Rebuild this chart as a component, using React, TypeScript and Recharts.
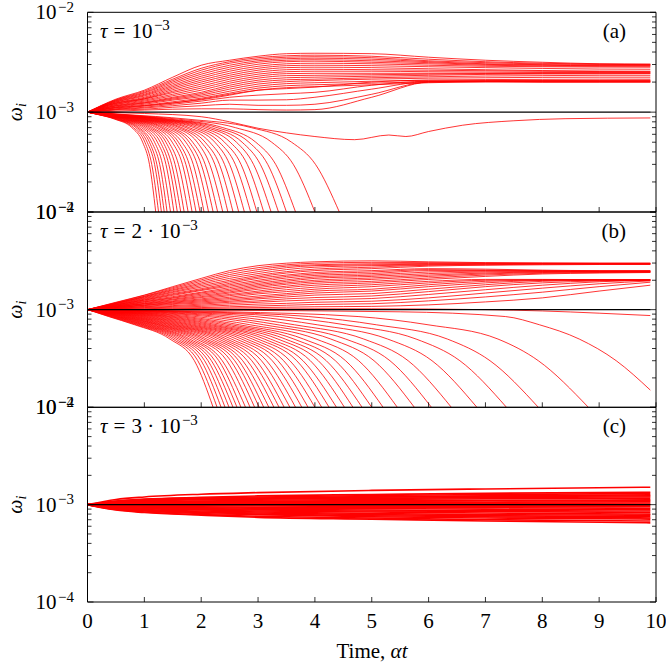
import { LineChart, Line, XAxis, YAxis } from 'recharts';

const W = 666;
const H = 664;
const LEFT = 87.5;
const RIGHT = 656;
const SERIF = '"Liberation Serif", "DejaVu Serif", serif';
const RED = '#ff0000';

// room reserved for each axis box
const LEFT_AXIS_W = 60;
const RIGHT_AXIS_W = 10;
const BOTTOM_AXIS_H = 30;
const TOP_AXIS_H = 10;

const xTicks = [0, 1, 2, 3, 4, 5, 6, 7, 8, 9, 10];
const yTicks = [
  1e-4, 2e-4, 3e-4, 4e-4, 5e-4, 6e-4, 7e-4, 8e-4, 9e-4,
  1e-3, 2e-3, 3e-3, 4e-3, 5e-3, 6e-3, 7e-3, 8e-3, 9e-3, 1e-2,
];
const yDecades = [1e-4, 1e-3, 1e-2];
const yDecadeExps = ['−4', '−3', '−2'];

// ω_i below is in units of 1e-3; every mode starts at ω = 1e-3 when t = 0
const UNIT = 1e-3;
const START = 1;

// decaying modes: the times at which each one passes these levels
const fallLevels = [0.95, 0.85, 0.7, 0.5, 0.3, 0.1];

// reference level ω = 1e-3
const meanTimes = [9.9];
const meanLevels = [1];

// ---- (a) tau = 1e-3 ----
const riseTimesA = [0.5, 1, 1.5, 2, 2.5, 3, 3.5, 4, 5, 6, 7, 8, 9, 9.9];
const riseA = [
  [1.35, 1.66, 2.24, 2.95, 3.31, 3.63, 3.85, 3.89, 3.85, 3.55, 3.31, 3.16, 3.05, 3.02],
  [1.33, 1.62, 2.14, 2.75, 3.2, 3.51, 3.67, 3.72, 3.63, 3.39, 3.2, 3.09, 3.03, 3.02],
  [1.32, 1.58, 2.07, 2.63, 3.09, 3.39, 3.55, 3.59, 3.51, 3.27, 3.13, 3.04, 3.01, 2.99],
  [1.3, 1.55, 2.0, 2.51, 2.95, 3.27, 3.43, 3.47, 3.39, 3.2, 3.05, 2.99, 2.95, 2.95],
  [1.29, 1.51, 1.93, 2.4, 2.82, 3.16, 3.31, 3.35, 3.27, 3.13, 3.01, 2.95, 2.92, 2.92],
  [1.27, 1.48, 1.86, 2.29, 2.69, 3.02, 3.2, 3.24, 3.16, 3.05, 2.95, 2.9, 2.88, 2.88],
  [1.26, 1.45, 1.8, 2.19, 2.57, 2.88, 3.05, 3.09, 3.05, 2.95, 2.88, 2.85, 2.83, 2.82],
  [1.24, 1.41, 1.74, 2.09, 2.45, 2.75, 2.92, 2.95, 2.92, 2.85, 2.79, 2.74, 2.7, 2.69],
  [1.23, 1.38, 1.68, 2.0, 2.34, 2.63, 2.79, 2.82, 2.79, 2.72, 2.66, 2.61, 2.58, 2.57],
  [1.22, 1.36, 1.62, 1.91, 2.24, 2.51, 2.66, 2.69, 2.66, 2.63, 2.6, 2.57, 2.55, 2.54],
  [1.2, 1.35, 1.57, 1.82, 2.14, 2.4, 2.54, 2.57, 2.57, 2.54, 2.52, 2.51, 2.51, 2.51],
  [1.19, 1.32, 1.51, 1.74, 2.04, 2.29, 2.43, 2.45, 2.45, 2.45, 2.45, 2.48, 2.48, 2.48],
  [1.17, 1.29, 1.46, 1.66, 1.95, 2.19, 2.32, 2.34, 2.37, 2.4, 2.43, 2.44, 2.45, 2.45],
  [1.16, 1.26, 1.41, 1.58, 1.86, 2.09, 2.21, 2.24, 2.29, 2.34, 2.39, 2.41, 2.42, 2.43],
  [1.15, 1.24, 1.38, 1.53, 1.78, 2.0, 2.11, 2.14, 2.21, 2.26, 2.3, 2.32, 2.34, 2.34],
  [1.13, 1.23, 1.35, 1.48, 1.7, 1.91, 2.02, 2.07, 2.14, 2.19, 2.21, 2.23, 2.24, 2.24],
  [1.12, 1.2, 1.32, 1.43, 1.62, 1.82, 1.93, 1.97, 2.04, 2.09, 2.12, 2.13, 2.14, 2.14],
  [1.11, 1.17, 1.27, 1.38, 1.55, 1.74, 1.84, 1.88, 1.95, 2.02, 2.06, 2.07, 2.08, 2.09],
  [1.1, 1.16, 1.24, 1.33, 1.48, 1.66, 1.76, 1.8, 1.88, 1.97, 2.02, 2.05, 2.06, 2.07],
  [1.08, 1.15, 1.23, 1.35, 1.51, 1.66, 1.72, 1.78, 2.0, 2.09, 2.08, 2.06, 2.04, 2.04],
  [1.07, 1.12, 1.2, 1.29, 1.41, 1.48, 1.53, 1.58, 1.86, 2.04, 2.04, 2.02, 2.02, 2.02],
  [1.06, 1.1, 1.16, 1.23, 1.32, 1.32, 1.33, 1.41, 1.7, 2.02, 2.02, 2.0, 2.0, 2.0],
  [1.05, 1.07, 1.12, 1.16, 1.2, 1.17, 1.17, 1.2, 1.51, 2.0, 2.01, 2.0, 2.0, 2.0],
  [1.02, 1.05, 1.07, 1.08, 1.08, 1.06, 1.05, 1.06, 1.41, 2.0, 2.04, 2.04, 2.04, 2.04],
];
const fallA = [
  [0.17, 0.48, 0.78, 0.97, 1.09, 1.2],
  [0.18, 0.5, 0.81, 1.01, 1.13, 1.25],
  [0.18, 0.52, 0.85, 1.05, 1.18, 1.3],
  [0.19, 0.54, 0.88, 1.09, 1.22, 1.35],
  [0.2, 0.56, 0.91, 1.13, 1.27, 1.4],
  [0.2, 0.58, 0.95, 1.18, 1.32, 1.46],
  [0.21, 0.61, 0.99, 1.23, 1.38, 1.52],
  [0.22, 0.63, 1.03, 1.28, 1.43, 1.58],
  [0.23, 0.66, 1.07, 1.33, 1.48, 1.64],
  [0.24, 0.68, 1.11, 1.38, 1.54, 1.7],
  [0.25, 0.71, 1.15, 1.43, 1.6, 1.77],
  [0.26, 0.74, 1.2, 1.49, 1.67, 1.84],
  [0.27, 0.76, 1.24, 1.55, 1.73, 1.91],
  [0.28, 0.79, 1.29, 1.6, 1.79, 1.98],
  [0.29, 0.82, 1.33, 1.66, 1.86, 2.05],
  [0.3, 0.85, 1.38, 1.73, 1.93, 2.13],
  [0.31, 0.88, 1.44, 1.79, 2.0, 2.21],
  [0.32, 0.92, 1.49, 1.85, 2.07, 2.29],
  [0.33, 0.95, 1.55, 1.93, 2.15, 2.38],
  [0.35, 0.99, 1.61, 2.0, 2.24, 2.47],
  [0.36, 1.02, 1.66, 2.07, 2.32, 2.56],
  [0.37, 1.06, 1.73, 2.15, 2.41, 2.66],
  [0.39, 1.1, 1.79, 2.24, 2.5, 2.76],
  [0.4, 1.15, 1.87, 2.32, 2.6, 2.87],
  [0.42, 1.19, 1.94, 2.41, 2.7, 2.98],
  [0.43, 1.24, 2.02, 2.51, 2.81, 3.1],
  [0.45, 1.29, 2.1, 2.62, 2.92, 3.23],
  [0.47, 1.34, 2.18, 2.72, 3.04, 3.36],
  [0.49, 1.4, 2.28, 2.84, 3.17, 3.5],
  [0.51, 1.46, 2.38, 2.96, 3.31, 3.66],
  [0.56, 1.6, 2.6, 3.24, 3.62, 4.0],
  [0.62, 1.77, 2.88, 3.59, 4.01, 4.43],
];
// the one mode that sinks to ~5e-4 and recovers
const dipTimesA = [1, 2, 2.5, 3, 3.5, 4, 4.7, 5.3, 5.6, 6, 6.6, 7.5, 8.4, 9.9];
const dipA = [0.97, 0.9, 0.8, 0.69, 0.62, 0.57, 0.53, 0.59, 0.57, 0.64, 0.74, 0.82, 0.86, 0.875];

// ---- (b) tau = 2e-3 ----
const riseTimesB = [0.5, 1, 1.5, 2, 2.5, 3, 3.5, 4, 5, 6, 7, 8, 9, 9.9];
const riseB = [
  [1.19, 1.41, 1.72, 2.09, 2.51, 2.82, 2.99, 3.09, 3.16, 3.09, 3.03, 3.01, 2.99, 2.99],
  [1.18, 1.4, 1.68, 2.02, 2.4, 2.69, 2.88, 2.99, 3.05, 3.03, 3.01, 2.99, 2.99, 2.99],
  [1.17, 1.37, 1.64, 1.95, 2.29, 2.57, 2.79, 2.88, 2.95, 2.97, 2.97, 2.97, 2.97, 2.97],
  [1.16, 1.36, 1.6, 1.88, 2.19, 2.45, 2.69, 2.82, 2.88, 2.92, 2.94, 2.95, 2.95, 2.95],
  [1.16, 1.34, 1.57, 1.82, 2.09, 2.34, 2.57, 2.72, 2.82, 2.88, 2.92, 2.93, 2.94, 2.94],
  [1.15, 1.32, 1.53, 1.76, 2.0, 2.24, 2.45, 2.6, 2.72, 2.85, 2.88, 2.92, 2.92, 2.92],
  [1.14, 1.3, 1.5, 1.7, 1.93, 2.16, 2.37, 2.51, 2.63, 2.79, 2.85, 2.88, 2.9, 2.9],
  [1.13, 1.28, 1.46, 1.64, 1.86, 2.09, 2.26, 2.4, 2.51, 2.63, 2.6, 2.54, 2.51, 2.51],
  [1.12, 1.26, 1.43, 1.6, 1.8, 2.0, 2.19, 2.32, 2.43, 2.57, 2.54, 2.51, 2.49, 2.49],
  [1.12, 1.25, 1.4, 1.57, 1.74, 1.93, 2.11, 2.24, 2.34, 2.51, 2.51, 2.49, 2.48, 2.48],
  [1.11, 1.23, 1.36, 1.51, 1.68, 1.86, 2.02, 2.16, 2.26, 2.43, 2.48, 2.48, 2.47, 2.47],
  [1.1, 1.21, 1.33, 1.48, 1.62, 1.8, 1.95, 2.09, 2.19, 2.34, 2.43, 2.45, 2.45, 2.45],
  [1.09, 1.2, 1.31, 1.44, 1.57, 1.74, 1.88, 2.0, 2.11, 2.26, 2.37, 2.43, 2.44, 2.44],
  [1.09, 1.18, 1.28, 1.4, 1.52, 1.68, 1.82, 1.93, 2.04, 2.19, 2.32, 2.4, 2.43, 2.43],
  [1.08, 1.16, 1.26, 1.36, 1.48, 1.62, 1.74, 1.86, 1.95, 2.11, 2.26, 2.36, 2.4, 2.42],
  [1.07, 1.15, 1.23, 1.33, 1.43, 1.55, 1.68, 1.78, 1.88, 2.04, 2.19, 2.32, 2.37, 2.4],
  [1.07, 1.14, 1.21, 1.29, 1.39, 1.5, 1.6, 1.7, 1.8, 1.95, 2.04, 2.04, 2.03, 2.03],
  [1.06, 1.12, 1.19, 1.26, 1.34, 1.45, 1.53, 1.62, 1.72, 1.88, 2.0, 2.02, 2.02, 2.02],
  [1.05, 1.11, 1.17, 1.23, 1.3, 1.38, 1.46, 1.55, 1.62, 1.8, 1.95, 2.01, 2.02, 2.02],
  [1.05, 1.1, 1.15, 1.2, 1.26, 1.33, 1.41, 1.48, 1.55, 1.72, 1.88, 1.99, 2.01, 2.01],
  [1.04, 1.08, 1.13, 1.17, 1.22, 1.29, 1.35, 1.41, 1.46, 1.62, 1.8, 1.95, 2.0, 2.01],
  [1.03, 1.07, 1.1, 1.14, 1.19, 1.23, 1.29, 1.33, 1.38, 1.53, 1.72, 1.88, 1.97, 2.0],
  [1.03, 1.05, 1.08, 1.11, 1.15, 1.19, 1.23, 1.26, 1.3, 1.43, 1.6, 1.78, 1.93, 2.0],
  [1.02, 1.04, 1.06, 1.08, 1.11, 1.14, 1.16, 1.19, 1.22, 1.32, 1.48, 1.66, 1.84, 1.97],
  [1.01, 1.02, 1.04, 1.05, 1.07, 1.09, 1.11, 1.13, 1.15, 1.23, 1.35, 1.51, 1.72, 1.91],
  [1.01, 1.01, 1.02, 1.03, 1.04, 1.05, 1.06, 1.07, 1.08, 1.12, 1.2, 1.32, 1.55, 1.78],
];
const fallB = [
  [0.12, 0.37, 0.83, 1.45, 1.88, 2.21],
  [0.13, 0.39, 0.86, 1.5, 1.94, 2.28],
  [0.14, 0.41, 0.9, 1.55, 2.0, 2.35],
  [0.15, 0.43, 0.93, 1.6, 2.06, 2.42],
  [0.16, 0.46, 0.97, 1.65, 2.12, 2.49],
  [0.17, 0.48, 1.0, 1.7, 2.18, 2.56],
  [0.18, 0.5, 1.04, 1.75, 2.24, 2.63],
  [0.19, 0.53, 1.08, 1.8, 2.31, 2.7],
  [0.21, 0.55, 1.12, 1.86, 2.37, 2.78],
  [0.22, 0.58, 1.16, 1.92, 2.45, 2.86],
  [0.23, 0.61, 1.21, 1.98, 2.52, 2.94],
  [0.25, 0.64, 1.25, 2.04, 2.59, 3.02],
  [0.26, 0.67, 1.29, 2.1, 2.66, 3.1],
  [0.28, 0.71, 1.34, 2.17, 2.73, 3.19],
  [0.3, 0.74, 1.39, 2.24, 2.81, 3.28],
  [0.32, 0.78, 1.45, 2.31, 2.89, 3.37],
  [0.34, 0.82, 1.5, 2.38, 2.97, 3.46],
  [0.36, 0.86, 1.56, 2.45, 3.06, 3.56],
  [0.38, 0.91, 1.62, 2.53, 3.15, 3.66],
  [0.4, 0.96, 1.69, 2.62, 3.25, 3.77],
  [0.43, 1.01, 1.76, 2.71, 3.35, 3.88],
  [0.46, 1.07, 1.83, 2.8, 3.45, 4.0],
  [0.49, 1.13, 1.91, 2.9, 3.56, 4.12],
  [0.53, 1.2, 2.0, 3.0, 3.68, 4.25],
  [0.56, 1.27, 2.09, 3.11, 3.79, 4.38],
  [0.6, 1.35, 2.18, 3.22, 3.92, 4.52],
  [0.64, 1.43, 2.28, 3.35, 4.06, 4.67],
  [0.7, 1.52, 2.4, 3.48, 4.2, 4.83],
  [0.75, 1.63, 2.53, 3.63, 4.36, 5.0],
  [0.81, 1.75, 2.67, 3.8, 4.54, 5.2],
  [0.9, 1.91, 2.86, 4.02, 4.77, 5.45],
  [1.01, 2.11, 3.1, 4.28, 5.04, 5.75],
  [1.13, 2.32, 3.35, 4.54, 5.32, 6.05],
  [1.27, 2.59, 3.64, 4.86, 5.64, 6.4],
  [1.46, 2.94, 4.04, 5.28, 6.06, 6.85],
  [1.7, 3.38, 4.53, 5.78, 6.55, 7.37],
  [1.98, 3.89, 5.08, 6.33, 7.08, 7.93],
  [2.47, 4.76, 5.99, 7.22, 7.93, 8.81],
];
// slowest decaying mode, still inside the frame at the end
const tailTimesB = [5.5, 7.35, 7.95, 8.65, 9.3, 9.9];
const tailB = [0.95, 0.85, 0.7, 0.5, 0.3, 0.15];
// mode that stays near 1e-3 and sags at late times
const flatTimesB = [1, 2, 3, 4, 5, 6, 7, 8, 9, 9.9];
const flatB = [1.005, 1.01, 1.015, 1.02, 1.02, 1.015, 1.0, 0.97, 0.92, 0.87];

// ---- (c) tau = 3e-3 ----
const bandTimesC = [0.5, 1, 2, 3, 5, 7, 9.9];
const bandC = [
  [1.13, 1.2, 1.28, 1.33, 1.4, 1.45, 1.51],
  [1.09, 1.14, 1.19, 1.23, 1.27, 1.31, 1.34],
  [1.08, 1.13, 1.17, 1.2, 1.24, 1.27, 1.3],
  [1.07, 1.11, 1.15, 1.17, 1.21, 1.23, 1.26],
  [1.06, 1.1, 1.13, 1.16, 1.19, 1.21, 1.23],
  [1.06, 1.09, 1.12, 1.14, 1.16, 1.18, 1.2],
  [1.05, 1.07, 1.09, 1.11, 1.13, 1.15, 1.16],
  [1.04, 1.05, 1.07, 1.08, 1.1, 1.11, 1.12],
  [1.03, 1.04, 1.06, 1.07, 1.08, 1.09, 1.1],
  [1.02, 1.03, 1.04, 1.05, 1.06, 1.06, 1.07],
  [1.01, 1.02, 1.02, 1.03, 1.03, 1.03, 1.04],
  [1.0, 1.01, 1.01, 1.01, 1.01, 1.01, 1.01],
  [1.0, 0.99, 0.99, 0.99, 0.99, 0.99, 0.99],
  [0.99, 0.98, 0.97, 0.97, 0.96, 0.96, 0.95],
  [0.98, 0.96, 0.95, 0.94, 0.94, 0.93, 0.92],
  [0.97, 0.95, 0.93, 0.92, 0.91, 0.9, 0.89],
  [0.96, 0.94, 0.91, 0.9, 0.88, 0.87, 0.86],
  [0.95, 0.92, 0.9, 0.88, 0.86, 0.85, 0.83],
  [0.94, 0.91, 0.88, 0.86, 0.84, 0.82, 0.8],
  [0.93, 0.89, 0.86, 0.84, 0.81, 0.79, 0.78],
  [0.92, 0.88, 0.84, 0.82, 0.79, 0.77, 0.75],
  [0.91, 0.87, 0.83, 0.8, 0.77, 0.75, 0.73],
  [0.9, 0.86, 0.81, 0.79, 0.75, 0.73, 0.71],
  [0.89, 0.84, 0.79, 0.76, 0.73, 0.7, 0.68],
  [0.88, 0.83, 0.78, 0.74, 0.71, 0.68, 0.65],
];

type Pt = { t: number; w: number };

const toPoints = (times: number[], vals: number[]): Pt[] => [
  { t: 0, w: START * UNIT },
  ...times.map((t, i) => ({ t, w: vals[i] * UNIT })),
];

type PanelSpec = {
  top: number;
  bottom: number;
  tauPre: string;
  tag: string;
  lineW: number;
  modes: Pt[][];
};

const panels: PanelSpec[] = [
  {
    top: 12.3,
    bottom: 212,
    tauPre: '',
    tag: '(a)',
    lineW: 0.8,
    modes: [
      ...riseA.map((r) => toPoints(riseTimesA, r)),
      ...fallA.map((r) => toPoints(r, fallLevels)),
      toPoints(dipTimesA, dipA),
    ],
  },
  {
    top: 212,
    bottom: 407.3,
    tauPre: '2 · ',
    tag: '(b)',
    lineW: 0.8,
    modes: [
      ...riseB.map((r) => toPoints(riseTimesB, r)),
      ...fallB.map((r) => toPoints(r, fallLevels)),
      toPoints(tailTimesB, tailB),
      toPoints(flatTimesB, flatB),
    ],
  },
  {
    top: 407.3,
    bottom: 602,
    tauPre: '3 · ',
    tag: '(c)',
    lineW: 1.6,
    modes: bandC.map((r) => toPoints(bandTimesC, r)),
  },
];

const meanPoints = toPoints(meanTimes, meanLevels);

function XTick(props: any) {
  const { x, payload, edge, dir, showLabel } = props;
  return (
    <g>
      <line x1={x} x2={x} y1={edge} y2={edge + dir * 5} stroke="#000" strokeWidth={0.8} />
      {showLabel && (
        <text x={x} y={628} textAnchor="middle" fontFamily={SERIF} fontSize={21} fill="#000">
          {payload.value}
        </text>
      )}
    </g>
  );
}

function YTick(props: any) {
  const { y, payload, side } = props;
  const i = yDecades.findIndex((d) => Math.abs(payload.value / d - 1) < 1e-6);
  const len = i >= 0 ? 6 : 4;
  const x0 = side === 'left' ? LEFT : RIGHT;
  const x1 = side === 'left' ? LEFT + len : RIGHT - len;
  return (
    <g>
      <line x1={x0} x2={x1} y1={y} y2={y} stroke="#000" strokeWidth={0.8} />
      {side === 'left' && i >= 0 && (
        <text x={74} y={y + 7} textAnchor="end" fontFamily={SERIF} fontSize={21} fill="#000">
          10
          <tspan dx={1.5} dy={-7.5} fontSize={15}>
            {yDecadeExps[i]}
          </tspan>
        </text>
      )}
    </g>
  );
}

function Panel({ p, last }: { p: PanelSpec; last: boolean }) {
  const frame = { stroke: '#000', strokeWidth: 1 };
  return (
    <div style={{ position: 'absolute', left: 0, top: 0 }}>
      <LineChart
        width={W}
        height={H}
        margin={{
          top: p.top - TOP_AXIS_H,
          bottom: H - p.bottom - BOTTOM_AXIS_H,
          left: LEFT - LEFT_AXIS_W,
          right: W - RIGHT - RIGHT_AXIS_W,
        }}
      >
        <XAxis
          xAxisId="bottom"
          type="number"
          dataKey="t"
          domain={[0, 10]}
          ticks={xTicks}
          interval={0}
          height={BOTTOM_AXIS_H}
          axisLine={frame}
          tickLine={false}
          tick={(tp: any) => <XTick {...tp} edge={p.bottom} dir={-1} showLabel={last} />}
        />
        <XAxis
          xAxisId="top"
          orientation="top"
          type="number"
          dataKey="t"
          domain={[0, 10]}
          ticks={xTicks}
          interval={0}
          height={TOP_AXIS_H}
          axisLine={frame}
          tickLine={false}
          tick={(tp: any) => <XTick {...tp} edge={p.top} dir={1} showLabel={false} />}
        />
        <YAxis
          yAxisId="left"
          type="number"
          scale="log"
          domain={[1e-4, 1e-2]}
          allowDataOverflow
          ticks={yTicks}
          interval={0}
          width={LEFT_AXIS_W}
          axisLine={frame}
          tickLine={false}
          tick={(tp: any) => <YTick {...tp} side="left" />}
        />
        <YAxis
          yAxisId="right"
          orientation="right"
          type="number"
          scale="log"
          domain={[1e-4, 1e-2]}
          allowDataOverflow
          ticks={yTicks}
          interval={0}
          width={RIGHT_AXIS_W}
          axisLine={frame}
          tickLine={false}
          tick={(tp: any) => <YTick {...tp} side="right" />}
        />
        {p.modes.map((pts, i) => (
          <Line
            key={i}
            xAxisId="bottom"
            yAxisId="left"
            data={pts}
            dataKey="w"
            type="monotone"
            stroke={RED}
            strokeWidth={p.lineW}
            dot={false}
            activeDot={false}
            isAnimationActive={false}
          />
        ))}
        <Line
          xAxisId="bottom"
          yAxisId="left"
          data={meanPoints}
          dataKey="w"
          type="linear"
          stroke="#000"
          strokeWidth={1.4}
          dot={false}
          activeDot={false}
          isAnimationActive={false}
        />
      </LineChart>
    </div>
  );
}

export default function App() {
  return (
    <div style={{ position: 'absolute', left: 0, top: 0, width: W, height: H, background: '#fff' }}>
      {panels.map((p, i) => (
        <Panel key={p.tag} p={p} last={i === panels.length - 1} />
      ))}
      <svg
        width={W}
        height={H}
        style={{ position: 'absolute', left: 0, top: 0, pointerEvents: 'none' }}
        fontFamily={SERIF}
        fill="#000"
      >
        {panels.map((p) => (
          <g key={p.tag}>
            <text
              transform={`translate(22 ${(p.top + p.bottom) / 2}) rotate(-90)`}
              textAnchor="middle"
              fontSize={20}
              fontStyle="italic"
            >
              ω
              <tspan fontSize={14} dy={4}>
                i
              </tspan>
            </text>
            <text x={100} y={p.top + 26} fontSize={21}>
              <tspan fontStyle="italic">τ</tspan>
              <tspan dx={6}>=</tspan>
              <tspan dx={6}>{p.tauPre}10</tspan>
              <tspan dx={1.5} dy={-8} fontSize={15}>
                −3
              </tspan>
            </text>
            <text x={626} y={p.top + 26} textAnchor="end" fontSize={21}>
              {p.tag}
            </text>
          </g>
        ))}
        <text x={372} y={658} textAnchor="middle" fontSize={21}>
          Time, <tspan fontStyle="italic">αt</tspan>
        </text>
      </svg>
    </div>
  );
}
